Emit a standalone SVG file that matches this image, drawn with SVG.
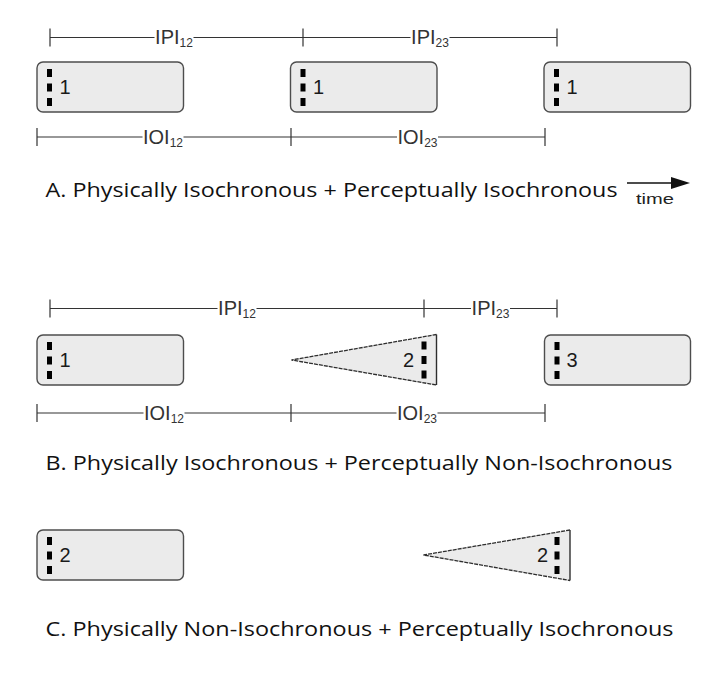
<svg xmlns="http://www.w3.org/2000/svg" width="713" height="694" viewBox="0 0 713 694">
<style>
.box{fill:#ebebeb;stroke:#4d4d4d;stroke-width:1.4}
.tri{fill:#ebebeb;stroke:none}
.triedge{fill:none;stroke:#2e2e2e;stroke-width:1.3;stroke-dasharray:4 1}
.tribase{fill:none;stroke:#2e2e2e;stroke-width:1.4}
.onset{stroke:#000;stroke-width:5;stroke-dasharray:8 6.5}
.num{font-family:"Liberation Sans",Arial,sans-serif;font-size:20px;fill:#1a1a1a}
.iv{stroke:#333;stroke-width:1.2;fill:none}
.lbl{font-family:"Liberation Sans",Arial,sans-serif;font-size:20px;fill:#333;text-anchor:middle}
.sub{font-size:12px}
.title{font-family:"Open Sans","Liberation Sans",Arial,sans-serif;font-size:20.5px;fill:#111}
.time{font-family:"Liberation Sans",Arial,sans-serif;font-size:15px;fill:#222}
</style>
<rect width="713" height="694" fill="#fff"/>

<g id="connectors">
  <path class="iv" d="M50,37.5H154.5M193.5,37.5H303M303,37.5H410.5M449.5,37.5H557M50,28.5V46.5M303,28.5V46.5M557,28.5V46.5"/>
  <path class="iv" d="M37,137H142.5M183.5,137H291M291,137H397M438,137H545M37,128V146M291,128V146M545,128V146"/>
  <path class="iv" d="M50,308.5H217.5M256.5,308.5H424M424,308.5H471M510,308.5H557M50,299.5V317.5M424,299.5V317.5M557,299.5V317.5"/>
  <path class="iv" d="M37,413H143.5M184.5,413H291M291,413H396.5M437.5,413H545M37,404V422M291,404V422M545,404V422"/>
  <line x1="627" y1="183" x2="672" y2="183" stroke="#111" stroke-width="1.5"/>
  <path d="M671,177 L690,183 L671,189 z" fill="#111"/>
</g>

<g id="labels">
  <text class="lbl" x="174" y="43.5">IPI<tspan class="sub" dy="3">12</tspan></text>
  <text class="lbl" x="430" y="43.5">IPI<tspan class="sub" dy="3">23</tspan></text>
  <text class="lbl" x="163" y="143.5">IOI<tspan class="sub" dy="3">12</tspan></text>
  <text class="lbl" x="417.5" y="143.5">IOI<tspan class="sub" dy="3">23</tspan></text>
  <text class="lbl" x="237" y="314.5">IPI<tspan class="sub" dy="3">12</tspan></text>
  <text class="lbl" x="490.5" y="314.5">IPI<tspan class="sub" dy="3">23</tspan></text>
  <text class="lbl" x="164" y="419.5">IOI<tspan class="sub" dy="3">12</tspan></text>
  <text class="lbl" x="417" y="419.5">IOI<tspan class="sub" dy="3">23</tspan></text>
  <text class="time" x="636" y="204" textLength="38" lengthAdjust="spacingAndGlyphs">time</text>
</g>

<g id="A1"><rect class="box" x="37" y="62" width="146.5" height="50" rx="6"/><line class="onset" x1="49.5" y1="69" x2="49.5" y2="106"/><text class="num" x="59.5" y="94">1</text></g>
<g id="A2"><rect class="box" x="290.5" y="62" width="146.5" height="50" rx="6"/><line class="onset" x1="303" y1="69" x2="303" y2="106"/><text class="num" x="313" y="94">1</text></g>
<g id="A3"><rect class="box" x="544" y="62" width="146.5" height="50" rx="6"/><line class="onset" x1="556.5" y1="69" x2="556.5" y2="106"/><text class="num" x="566.5" y="94">1</text></g>

<g id="B1"><rect class="box" x="37" y="335" width="146.5" height="50" rx="6"/><line class="onset" x1="49.5" y1="342" x2="49.5" y2="379"/><text class="num" x="59.5" y="367">1</text></g>
<g id="B2"><polygon class="tri" points="291.5,360 436.5,334.5 436.5,385"/><path class="triedge" d="M436.5,334.5 L291.5,360 L436.5,385"/><line class="tribase" x1="436.5" y1="334.5" x2="436.5" y2="385"/><line class="onset" x1="424" y1="341.5" x2="424" y2="378.5"/><text class="num" x="414" y="367" text-anchor="end">2</text></g>
<g id="B3"><rect class="box" x="544.5" y="335" width="146" height="50" rx="6"/><line class="onset" x1="557" y1="342" x2="557" y2="379"/><text class="num" x="566.5" y="367">3</text></g>

<g id="C1"><rect class="box" x="37" y="530" width="146.5" height="50" rx="6"/><line class="onset" x1="49.5" y1="537" x2="49.5" y2="574"/><text class="num" x="59.5" y="562">2</text></g>
<g id="C2"><polygon class="tri" points="423.5,555 570,530 570,580.5"/><path class="triedge" d="M570,530 L423.5,555 L570,580.5"/><line class="tribase" x1="570" y1="530" x2="570" y2="580.5"/><line class="onset" x1="557" y1="537" x2="557" y2="574"/><text class="num" x="548" y="562" text-anchor="end">2</text></g>

<g id="titles">
  <text class="title" x="45.5" y="197" textLength="572" lengthAdjust="spacingAndGlyphs">A. Physically Isochronous + Perceptually Isochronous</text>
  <text class="title" x="45.5" y="470" textLength="627" lengthAdjust="spacingAndGlyphs">B. Physically Isochronous + Perceptually Non-Isochronous</text>
  <text class="title" x="45.5" y="636" textLength="628" lengthAdjust="spacingAndGlyphs">C. Physically Non-Isochronous + Perceptually Isochronous</text>
</g>
</svg>
